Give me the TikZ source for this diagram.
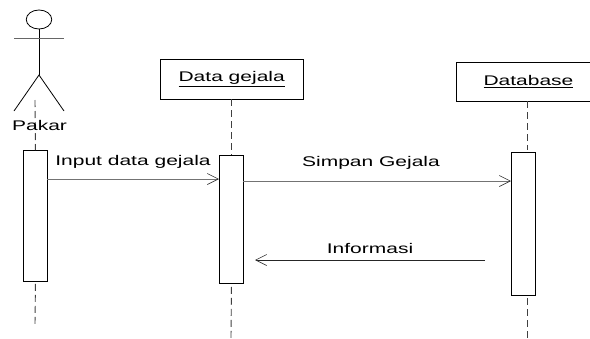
\documentclass[tikz,border=0pt]{standalone}
\usepackage{fontspec}
\setmainfont[FakeStretch=1.5]{Liberation Sans}
\usetikzlibrary{arrows.meta}
\usetikzlibrary{shapes.geometric}

\tikzset{
  lifebox/.style={draw, line width=.9pt, anchor=north west, inner sep=0pt, font=\fontsize{14}{16}\selectfont},
  activation/.style={draw, line width=.9pt, fill=white, anchor=north west, inner sep=0pt, minimum width=24pt},
  lifeline/.style={dash pattern=on 7pt off 4pt, line width=.9pt, black!75},
  message/.style={line width=1pt, black!55, -{Straight Barb[length=11pt,width=11pt,black!80,line width=.6pt]}},
  msgtext/.style={inner sep=0pt, font=\fontsize{14}{16}\selectfont},
}

\begin{document}
\begin{tikzpicture}[x=1pt,y=-1pt]
\useasboundingbox (0,0) rectangle (590,338);
% Pakar
\node[draw, ellipse, line width=.8pt, minimum width=25.5pt, minimum height=19pt, inner sep=0pt] (head) at (39,19.5) {};
\coordinate (hip) at (39,75);
\coordinate (armL) at (14,38);
\coordinate (armR) at (64,38);
\coordinate (footL) at (14,111);
\coordinate (footR) at (64,111);
\draw[line width=.8pt] (head) -- (hip);
\draw[line width=.8pt, black!60] (armL) -- (armR);
\draw[line width=.8pt] (footL) -- (hip) -- (footR);
\coordinate (pakarTop) at (35,100);
\coordinate (pakarEnd) at (35,325);
\node[activation, minimum height=131pt] (barPakar) at (23,150) {};
\draw[lifeline] (pakarTop) -- (barPakar.north);
\draw[lifeline] (barPakar.south) ++(0,2) -- (pakarEnd);
\path node[msgtext] (pakar) at (39.5,125) {Pakar};
% Data gejala
\node[lifebox, minimum width=143.5pt, minimum height=40pt] (gejala) at (159.5,58.5) {\underline{Data gejala}};
\node[activation, minimum height=128pt] (barGejala) at (219,155) {};
\coordinate (gejalaEnd) at (231,338);
\draw[lifeline] (gejala.south) -- (gejala.south |- barGejala.north);
\draw[lifeline] (barGejala.south) ++(0,3) -- (gejalaEnd);
% Database
\node[lifebox, minimum width=144pt, minimum height=39.5pt] (database) at (456,61.5) {\underline{Database}};
\node[activation, minimum height=142.5pt] (barDatabase) at (511,152) {};
\coordinate (databaseTop) at (527.7,101);
\coordinate (databaseMid) at (527.7,150);
\coordinate (databaseLow) at (527.7,298);
\coordinate (databaseEnd) at (527.7,338);
\draw[lifeline] (databaseTop) -- (databaseMid);
\draw[lifeline] (databaseLow) -- (databaseEnd);
% pesan
\coordinate (inputA) at (47,179);
\coordinate (inputB) at (219,179);
\coordinate (simpanA) at (243,181);
\coordinate (simpanB) at (511,181);
\coordinate (infoA) at (485,260);
\coordinate (infoB) at (255,260);
\draw[message] (inputA) -- (inputB);
\draw[message] (simpanA) -- (simpanB);
\draw[message, black!85] (infoA) -- (infoB);
\path node[msgtext] (inputLabel) at (133,161.5) {Input data gejala};
\path node[msgtext] (simpanLabel) at (371,163) {Simpan Gejala};
\path node[msgtext] (infoLabel) at (370,248) {Informasi};
\end{tikzpicture}
\end{document}
